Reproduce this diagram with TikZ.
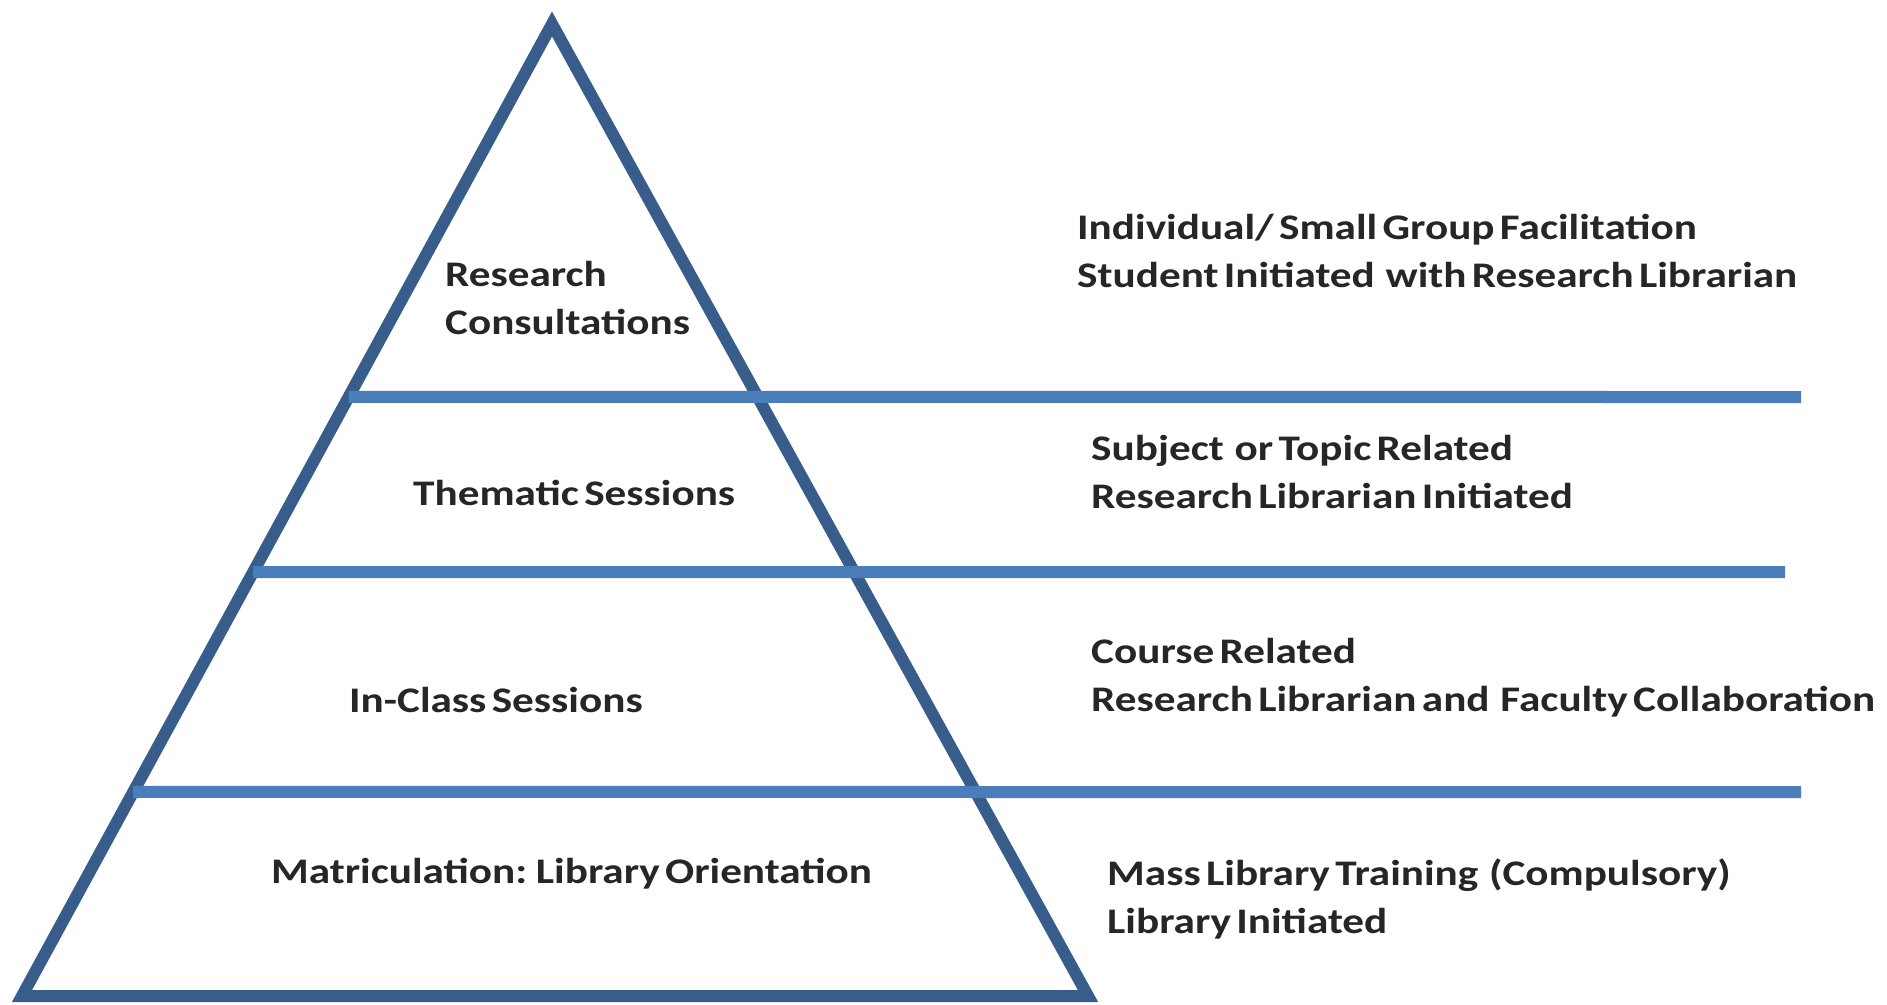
\documentclass[tikz,border=0pt]{standalone}
\usepackage{fontspec}
\setmainfont{Carlito}[FakeStretch=1.2,WordSpace=0.55]
\usetikzlibrary{calc}
\definecolor{triblue}{HTML}{385D8A}
\definecolor{lineblue}{HTML}{4A7EBB}
\definecolor{txt}{HTML}{262626}
\tikzset{
  tri/.style={draw=triblue,line width=12pt,line join=miter},
  hline/.style={draw=lineblue,line width=12pt},
  lbl/.style={font=\fontsize{36}{48}\selectfont\bfseries,text=txt,inner sep=0pt,anchor=west,align=left}
}
\begin{document}
\begin{tikzpicture}[x=1pt,y=-1pt]
\useasboundingbox[fill=white] (0,0) rectangle (1887,1004);
\coordinate (apex) at (552,24);
\coordinate (bl) at (22,996);
\coordinate (br) at (1088,996);
\draw[tri] (apex) -- (bl) -- (br) -- cycle;
\coordinate (s1) at ($(apex)!0.3837!(bl)$);
\coordinate (s2) at ($(apex)!0.5638!(bl)$);
\coordinate (s3) at ($(apex)!0.7901!(bl)$);
\coordinate (e1) at (1801,397);
\coordinate (e2) at (1785,572);
\coordinate (e3) at (1801,792);
\draw[hline] (s1) -- (e1);
\draw[hline] (s2) -- (e2);
\draw[hline] (s3) -- (e3);
\node[lbl] (rc) at (445,298) {Research\\Consultations};
\node[lbl] (ts) at (413,493) {Thematic Sessions};
\node[lbl] (ic) at (349,700) {In-Class Sessions};
\node[lbl] (mo) at (271,874) {Matriculation: Library Orientation};
\node[lbl] (r1) at (1077,251) {Individual/ Small Group Facilitation\\Student Initiated\ \ with Research Librarian};
\node[lbl] (r2) at (1091,472) {Subject\ \ or Topic Related\\Research Librarian Initiated};
\node[lbl] (r3) at (1091,678) {Course Related\\Research Librarian and\ \ Faculty Collaboration};
\node[lbl] (r4) at (1107,899) {Mass Library Training\ \ (Compulsory)\\Library Initiated};
\end{tikzpicture}
\end{document}
